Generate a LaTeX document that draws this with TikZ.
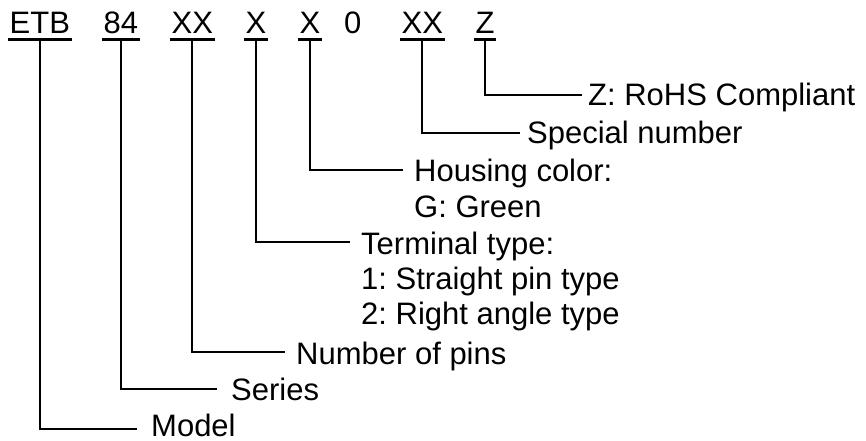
\documentclass[tikz,border=0pt]{standalone}
\usepackage{fontspec}
\setmainfont{Liberation Sans}
\frenchspacing
\begin{document}
\begin{tikzpicture}[x=1pt,y=1pt,
  code/.style={anchor=base west,inner xsep=1.5pt,inner ysep=0pt,font=\fontsize{31}{36}\selectfont},
  desc/.style={anchor=base west,inner sep=0pt,font=\fontsize{31}{36}\selectfont},
  leader/.style={line width=1.8pt,line cap=butt,line join=miter},
  uline/.style={line width=3pt}]
\useasboundingbox (0,0) rectangle (866,441);
% code row
\node[code] (etb) at (8,407) {ETB};
\node[code] (ser) at (102,407) {84};
\node[code] (pin) at (170,407) {XX};
\node[code] (ter) at (244,407) {X};
\node[code] (hou) at (298,407) {X};
\node[code] (zero) at (342.5,407) {0};
\node[code] (spe) at (400,407) {XX};
\node[code] (roh) at (474,407) {Z};
\foreach \n in {etb,ser,pin,ter,hou,spe,roh}
  \draw[uline] ([yshift=-5.5pt]\n.base west) -- ([yshift=-5.5pt]\n.base east);
% descriptions
\node[desc] (droh) at (588,335) {Z: RoHS Compliant};
\node[desc] (dspe) at (527,297) {Special number};
\node[desc] (dhou) at (414,259) {Housing color:};
\node[desc] (dhou2) at (414,223) {G: Green};
\node[desc] (dter) at (361,186) {Terminal type:};
\node[desc] (dter2) at (361,151) {1: Straight pin type};
\node[desc] (dter3) at (361,116) {2: Right angle type};
\node[desc] (dpin) at (296,76) {Number of pins};
\node[desc] (dser) at (231,40) {Series};
\node[desc] (detb) at (151,4.5) {Model};
% leaders
\draw[leader] ([yshift=-5.5pt]roh.base) |- ([xshift=-6pt,yshift=11pt]droh.base west);
\draw[leader] ([yshift=-5.5pt]spe.base) |- ([xshift=-7pt,yshift=11pt]dspe.base west);
\draw[leader] ([yshift=-5.5pt]hou.base) |- ([xshift=-11pt,yshift=12pt]dhou.base west);
\draw[leader] ([yshift=-5.5pt]ter.base) |- ([xshift=-11pt,yshift=13pt]dter.base west);
\draw[leader] ([yshift=-5.5pt]pin.base) |- ([xshift=-11pt,yshift=13pt]dpin.base west);
\draw[leader] ([yshift=-5.5pt]ser.base) |- ([xshift=-14pt,yshift=12pt]dser.base west);
\draw[leader] ([yshift=-5.5pt]etb.base) |- ([xshift=-14pt,yshift=7.5pt]detb.base west);
\end{tikzpicture}
\end{document}
